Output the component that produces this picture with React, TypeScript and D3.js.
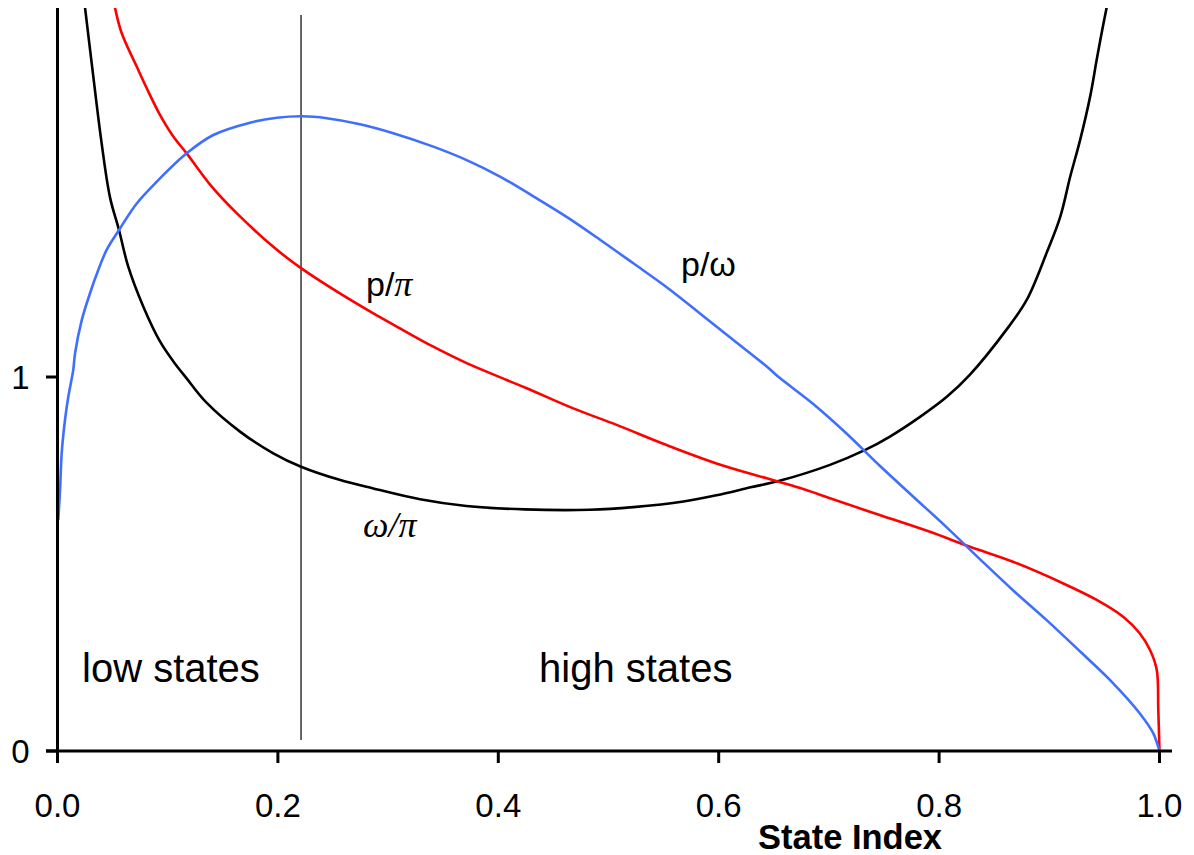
import React from "react";
import * as d3 from "d3";

// ω/π (black)
const omegaPiX = [0.025, 0.0325, 0.040, 0.0476, 0.0558, 0.0642, 0.0779, 0.093, 0.1048, 0.117, 0.135, 0.1656, 0.1958, 0.221, 0.2559, 0.2866, 0.329, 0.371, 0.424, 0.483, 0.5225, 0.568, 0.598, 0.629, 0.656, 0.701, 0.733, 0.755, 0.783, 0.807, 0.8276, 0.861, 0.8795, 0.8976, 0.910, 0.919, 0.928, 0.937, 0.943, 0.9475, 0.952];
const omegaPiY = [1.987, 1.803, 1.626, 1.481, 1.393, 1.295, 1.188, 1.095, 1.043, 0.997, 0.932, 0.854, 0.796, 0.760, 0.725, 0.702, 0.673, 0.655, 0.646, 0.645, 0.652, 0.667, 0.684, 0.705, 0.723, 0.765, 0.805, 0.840, 0.894, 0.947, 1.005, 1.126, 1.206, 1.332, 1.429, 1.536, 1.634, 1.749, 1.848, 1.920, 1.987];

// p/π (red)
const pPiX = [0.0522, 0.0583, 0.0719, 0.081, 0.093, 0.1051, 0.1172, 0.140, 0.1626, 0.1958, 0.221, 0.2559, 0.2866, 0.3108, 0.341, 0.3713, 0.4076, 0.4258, 0.468, 0.5074, 0.5528, 0.598, 0.6436, 0.674, 0.701, 0.746, 0.7917, 0.828, 0.867, 0.9127, 0.943, 0.967, 0.982, 0.9914, 0.9975, 0.9989, 1.0];
const pPiY = [1.987, 1.919, 1.830, 1.772, 1.701, 1.643, 1.598, 1.509, 1.438, 1.348, 1.291, 1.224, 1.170, 1.130, 1.081, 1.037, 0.992, 0.970, 0.916, 0.872, 0.818, 0.769, 0.729, 0.703, 0.676, 0.631, 0.586, 0.546, 0.506, 0.448, 0.404, 0.359, 0.315, 0.270, 0.217, 0.110, 0.0];

// p/ω (blue)
const pOmegaX = [0.0007, 0.0023, 0.0038, 0.0068, 0.0098, 0.0143, 0.0159, 0.022, 0.0295, 0.037, 0.0446, 0.0558, 0.0719, 0.090, 0.1172, 0.1414, 0.1747, 0.199, 0.222, 0.2443, 0.2745, 0.3047, 0.341, 0.3713, 0.4015, 0.4318, 0.462, 0.4923, 0.5225, 0.5528, 0.583, 0.6133, 0.6436, 0.6556, 0.6858, 0.716, 0.7464, 0.7766, 0.8069, 0.837, 0.867, 0.8976, 0.928, 0.958, 0.982, 0.9944, 1.0];
const pOmegaY = [0.618, 0.698, 0.796, 0.885, 0.947, 1.019, 1.063, 1.152, 1.224, 1.286, 1.340, 1.393, 1.464, 1.522, 1.598, 1.647, 1.680, 1.693, 1.697, 1.692, 1.676, 1.652, 1.616, 1.580, 1.536, 1.483, 1.428, 1.367, 1.304, 1.240, 1.170, 1.099, 1.028, 0.997, 0.928, 0.849, 0.762, 0.680, 0.598, 0.513, 0.430, 0.350, 0.266, 0.181, 0.101, 0.047, 0.0];

const xTicks = [0, 0.2, 0.4, 0.6, 0.8, 1.0];
const xTickLabels = ["0.0", "0.2", "0.4", "0.6", "0.8", "1.0"];
const yTicks = [0, 1];
const yTickLabels = ["0", "1"];
const divider = 0.221;

const FONT = "'Liberation Sans', Arial, Helvetica, sans-serif";
const SERIF = "'Liberation Serif', 'DejaVu Serif', serif";

export default function App() {
  const x = d3.scaleLinear().domain([0, 1]).range([57.5, 1159.5]);
  const y = d3.scaleLinear().domain([0, 2]).range([751, 3]);
  const line = d3
    .line<[number, number]>()
    .x((d) => x(d[0]))
    .y((d) => y(d[1]))
    .curve(d3.curveCatmullRom.alpha(0.5));
  const zip = (a: number[], b: number[]) => a.map((v, i) => [v, b[i]] as [number, number]);

  return (
    <svg
      width={1194}
      height={855}
      style={{ position: "absolute", left: 0, top: 0, background: "#fff" }}
    >
      <defs>
        <clipPath id="plot">
          <rect x={0} y={8} width={1194} height={760} />
        </clipPath>
      </defs>
      <rect x={0} y={0} width={1194} height={855} fill="#fff" />
      {/* divider */}
      <line x1={x(divider)} x2={x(divider)} y1={15} y2={740} stroke="#333" strokeWidth={1.5} />
      <g clipPath="url(#plot)" fill="none" strokeLinejoin="round">
        <path d={line(zip(omegaPiX, omegaPiY)) || ""} stroke="#000" strokeWidth={2.6} />
        <path d={line(zip(pPiX, pPiY)) || ""} stroke="#ff0000" strokeWidth={2.6} />
        <path d={line(zip(pOmegaX, pOmegaY)) || ""} stroke="#3f6fff" strokeWidth={2.6} />
      </g>
      {/* axes */}
      <line x1={46} x2={1172} y1={y(0)} y2={y(0)} stroke="#000" strokeWidth={3} />
      <line x1={x(0)} x2={x(0)} y1={8} y2={763} stroke="#000" strokeWidth={3} />
      {xTicks.map((t, i) => (
        <g key={"xt" + i}>
          <line x1={x(t)} x2={x(t)} y1={y(0)} y2={763} stroke="#000" strokeWidth={3} />
          <text x={x(t)} y={817} textAnchor="middle" fontFamily={FONT} fontSize={33} fill="#000">
            {xTickLabels[i]}
          </text>
        </g>
      ))}
      {yTicks.map((t, i) => (
        <g key={"yt" + i}>
          <line x1={46} x2={x(0)} y1={y(t)} y2={y(t)} stroke="#000" strokeWidth={3} />
          <text x={29.5} y={y(t) + 11.5} textAnchor="end" fontFamily={FONT} fontSize={33} fill="#000">
            {yTickLabels[i]}
          </text>
        </g>
      ))}
      <text x={850} y={849} textAnchor="middle" fontFamily={FONT} fontSize={34.5} fontWeight="bold" fill="#000">
        State Index
      </text>
      {/* region labels */}
      <text x={82} y={682} fontFamily={FONT} fontSize={40} fill="#000">low states</text>
      <text x={539} y={682} fontFamily={FONT} fontSize={40} fill="#000">high states</text>
      {/* curve labels */}
      <text x={366} y={296} fontFamily={FONT} fontSize={34} fill="#000">
        p/<tspan fontFamily={SERIF} fontStyle="italic" fontSize={36}>π</tspan>
      </text>
      <text x={681} y={276} fontFamily={FONT} fontSize={34} fill="#000">p/ω</text>
      <text x={363} y={537} fontFamily={SERIF} fontStyle="italic" fontSize={36} fill="#000">
        ω/π
      </text>
    </svg>
  );
}
